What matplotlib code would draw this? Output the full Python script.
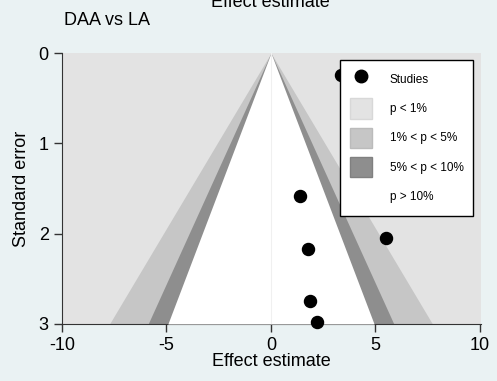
import numpy as np
import matplotlib.pyplot as plt
from matplotlib.patches import Patch
from matplotlib.lines import Line2D

plt.rcParams['font.family'] = ['Liberation Sans', 'DejaVu Sans']
plt.rcParams['axes.unicode_minus'] = False

# studies (effect estimate, standard error)
effect = [3.35, 1.37, 5.49, 1.76, 1.86, 2.19]
se = [0.24, 1.58, 2.05, 2.17, 2.74, 2.98]

# contour levels (two-sided p) and their z values
z_1 = 2.576
z_5 = 1.960
z_10 = 1.645

bg = '#eaf2f3'
c1 = '#e3e3e3'
c5 = '#c6c6c6'
c10 = '#8e8e8e'

fig = plt.figure(figsize=(4.97, 3.81), dpi=100, facecolor=bg)
ax = fig.add_axes([62/497, 1-324/381, 419/497, 271/381])
ax.set_facecolor(c1)

s = np.linspace(0, 3, 50)
ax.fill_betweenx(s, -z_1*s, z_1*s, color=c5, lw=0, zorder=1)
ax.fill_betweenx(s, -z_5*s, z_5*s, color=c10, lw=0, zorder=2)
ax.fill_betweenx(s, -z_10*s, z_10*s, color='white', lw=0, zorder=3)
ax.plot([0, 0], [0, 3], color='#f0f0f0', lw=0.8, zorder=4)

ax.scatter(effect, se, s=75, color='black', zorder=5, clip_on=False)

ax.set_xlim(-10, 10.05)
ax.set_ylim(3, 0)
ax.set_xticks([-10, -5, 0, 5, 10])
ax.set_yticks([0, 1, 2, 3])
ax.tick_params(labelsize=13, length=6, color='#333333', width=1)
for sp in ['top', 'right']:
    ax.spines[sp].set_visible(False)
for sp in ['left', 'bottom']:
    ax.spines[sp].set_color('#333333')
ax.set_xlabel('Effect estimate', fontsize=13, labelpad=-1)
ax.set_ylabel('Standard error', fontsize=13, labelpad=6)

fig.text(0.545, 1-7/381, 'Effect estimate', fontsize=13, ha='center', va='baseline')
fig.text(64/497, 1-25/381, 'DAA vs LA', fontsize=13, ha='left', va='baseline')

handles = [
    Line2D([], [], marker='o', color='black', ls='none', markersize=9),
    Patch(facecolor=c1, edgecolor='#d8d8d8'),
    Patch(facecolor=c5, edgecolor='#bbbbbb'),
    Patch(facecolor=c10, edgecolor='#808080'),
    Patch(facecolor='white', edgecolor='white'),
]
labels = ['Studies', 'p < 1%', '1% < p < 5%', '5% < p < 10%', 'p > 10%']
leg = fig.legend(handles, labels, loc='upper right', bbox_to_anchor=(473/497, 1-60/381),
                 fontsize=8.5, frameon=True, fancybox=False, framealpha=1,
                 edgecolor='black', handlelength=1.9, handleheight=2.3, labelspacing=0.72,
                 borderpad=0.8, handletextpad=1.5, borderaxespad=0)
leg.get_frame().set_linewidth(1)

fig.savefig('out.png', dpi=100, facecolor=bg)
